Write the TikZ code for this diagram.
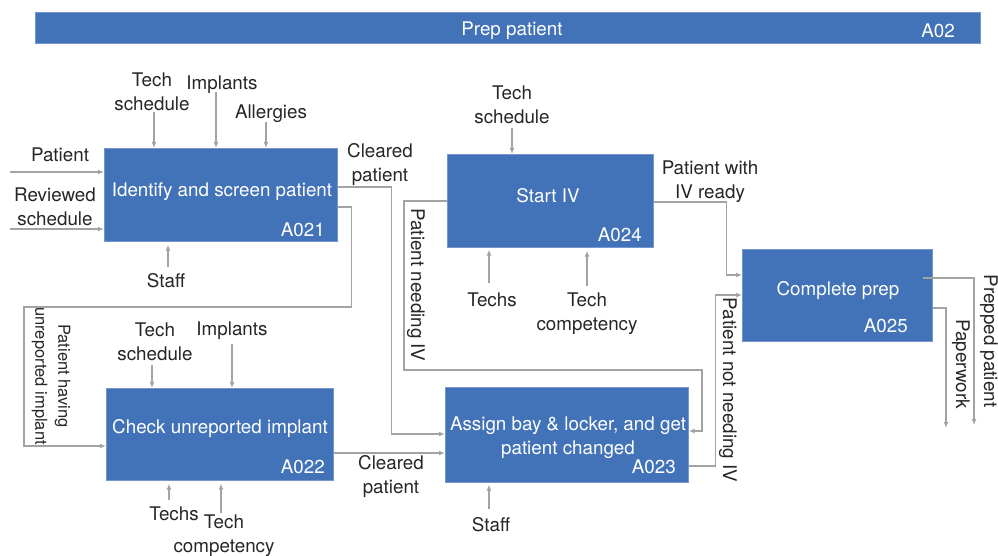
\documentclass[tikz,border=0pt]{standalone}
\usepackage{fontspec}
\setmainfont{TeX Gyre Heros}
\usetikzlibrary{arrows.meta,calc}
\definecolor{boxblue}{HTML}{4272B8}
\definecolor{boxedge}{HTML}{7497D2}
\definecolor{linegray}{HTML}{A3A3A3}
\definecolor{labelgray}{HTML}{262626}
\begin{document}
\begin{tikzpicture}[x=1pt,y=-1pt,
  box/.style={fill=boxblue,draw=boxedge,line width=0.7pt,inner sep=0,anchor=north west},
  lbl/.style={font=\fontsize{18.8}{24}\selectfont,text=labelgray,align=center,inner sep=0,yshift=-1.5pt},
  rlbl/.style={font=\fontsize{18.8}{24}\selectfont,text=labelgray,align=center,inner sep=0,rotate=-90},
  slbl/.style={font=\fontsize{16.5}{23}\selectfont,text=labelgray,align=center,inner sep=0,rotate=-90},
  wlbl/.style={font=\fontsize{18.8}{24}\selectfont,text=white,align=center,inner sep=0,yshift=-1.5pt},
  flow/.style={draw=linegray,line width=1.3pt,-{Latex[length=6pt,width=5pt]}}]
\useasboundingbox (0,0) rectangle (998,556);

% top bar
\node[box,minimum width=945,minimum height=31] (bar) at (35,12) {};
\node[wlbl] (bart) at (512,29) {Prep patient};
\node[wlbl,anchor=east] (barid) at (955,29) {A02};

% boxes
\node[box,minimum width=233,minimum height=93] (a021) at (104,148) {};
\node[wlbl] (a021t) at (222,190) {Identify and screen patient};
\node[wlbl,anchor=east] (a021id) at (325,228) {A021};

\node[box,minimum width=227,minimum height=92] (a022) at (106,388) {};
\node[wlbl] (a022t) at (220,427) {Check unreported implant};
\node[wlbl,anchor=east] (a022id) at (325,465) {A022};

\node[box,minimum width=243,minimum height=95] (a023) at (445,387) {};
\node[wlbl] (a023t) at (568,436) {Assign bay \& locker, and get\\patient changed};
\node[wlbl,anchor=east] (a023id) at (676,465) {A023};

\node[box,minimum width=206,minimum height=93] (a024) at (447,154) {};
\node[wlbl] (a024t) at (548,194) {Start IV};
\node[wlbl,anchor=east] (a024id) at (642,233) {A024};

\node[box,minimum width=190,minimum height=92] (a025) at (742,249) {};
\node[wlbl] (a025t) at (838,289) {Complete prep};
\node[wlbl,anchor=east] (a025id) at (908,324) {A025};

% labels
\node[lbl] (lpat) at (60,153) {Patient};
\node[lbl] (lrev) at (55,205) {Reviewed\\schedule};
\node[lbl] (lts1) at (152,90) {Tech\\schedule};
\node[lbl] (limp1) at (222,83) {Implants};
\node[lbl] (lall) at (271,112) {Allergies};
\node[lbl] (lstaff1) at (166,279) {Staff};
\node[lbl] (lcp1) at (380,163) {Cleared\\patient};
\node[slbl] (lphui) at (51,376) {Patient having\\unreported implant};

\node[lbl] (lts2) at (155,340) {Tech\\schedule};
\node[lbl] (limp2) at (232,329) {Implants};
\node[lbl] (ltechs2) at (174,512) {Techs};
\node[lbl] (ltc2) at (224,534) {Tech\\competency};
\node[lbl] (lcp2) at (391,475) {Cleared\\patient};

\node[lbl] (lstaff3) at (491,523) {Staff};

\node[lbl] (lts4) at (512,103) {Tech\\schedule};
\node[lbl] (ltechs4) at (492,298) {Techs};
\node[lbl] (ltc4) at (587,312) {Tech\\competency};
\node[rlbl] (lpniv) at (416,285) {Patient needing IV};
\node[lbl] (lpwiv) at (710,180) {Patient with\\IV ready};
\node[rlbl] (lpnniv) at (728,390) {Patient not needing IV};

\node[rlbl] (lprep) at (989,341) {Prepped patient};
\node[rlbl] (lpaper) at (961,364) {Paperwork};

% free ends
\coordinate (in1) at (10,172);
\coordinate (in2) at (10,229);
\coordinate (c1) at (154,112);
\coordinate (c2) at (216,92);
\coordinate (c3) at (266,122);
\coordinate (m1) at (168,267);
\coordinate (c4) at (152,365);
\coordinate (c5) at (232,344);
\coordinate (m2) at (169,500);
\coordinate (m3) at (221,513);
\coordinate (m4) at (489,509);
\coordinate (c6) at (512,128);
\coordinate (m5) at (489,283);
\coordinate (m6) at (587,286);
\coordinate (o1) at (974,425);
\coordinate (o2) at (946,428);

% A021
\draw[flow] (in1) -- (in1 -| a021.west);
\draw[flow] (in2) -- (in2 -| a021.west);
\draw[flow] (c1) -- (c1 |- a021.north);
\draw[flow] (c2) -- (c2 |- a021.north);
\draw[flow] (c3) -- (c3 |- a021.north);
\draw[flow] (m1) -- ($(m1 |- a021.south)+(0,3)$);
% A022
\draw[flow] (c4) -- (c4 |- a022.north);
\draw[flow] (c5) -- (c5 |- a022.north);
\draw[flow] (m2) -- ($(m2 |- a022.south)+(0,3)$);
\draw[flow] (m3) -- ($(m3 |- a022.south)+(0,3)$);
% A023
\draw[flow] (m4) -- ($(m4 |- a023.south)+(0,2)$);
% A024
\draw[flow] (c6) -- (c6 |- a024.north);
\draw[flow] (m5) -- ($(m5 |- a024.south)+(0,2)$);
\draw[flow] (m6) -- ($(m6 |- a024.south)+(0,3)$);

% flows between boxes
\draw[flow] ($(a021.north east)+(0,39)$) -- ++(54,0) |- ($(a023.north west)+(0,47)$);
\draw[flow] ($(a021.north east)+(0,59)$) -- ++(14,0) -- ++(0,100) -- (24,307) |- ($(a022.north west)+(0,58)$);
\draw[flow] ($(a022.north east)+(0,65)$) -- ($(a023.north west)+(0,66)$);
\draw[flow] ($(a024.north west)+(0,47)$) -- (404,201) -- (404,370) -- (702,370) |- ($(a023.north east)+(0,44)$);
\draw[flow] ($(a024.north east)+(0,48)$) -- ++(73,0) |- ($(a025.north west)+(0,26)$);
\draw[flow] ($(a023.north east)+(0,79)$) -- ++(27,0) |- ($(a025.north west)+(0,46)$);
\draw[flow] ($(a025.north east)+(-10,29)$) -| (o1);
\draw[flow] ($(a025.north east)+(0,59)$) -| (o2);
\end{tikzpicture}
\end{document}
